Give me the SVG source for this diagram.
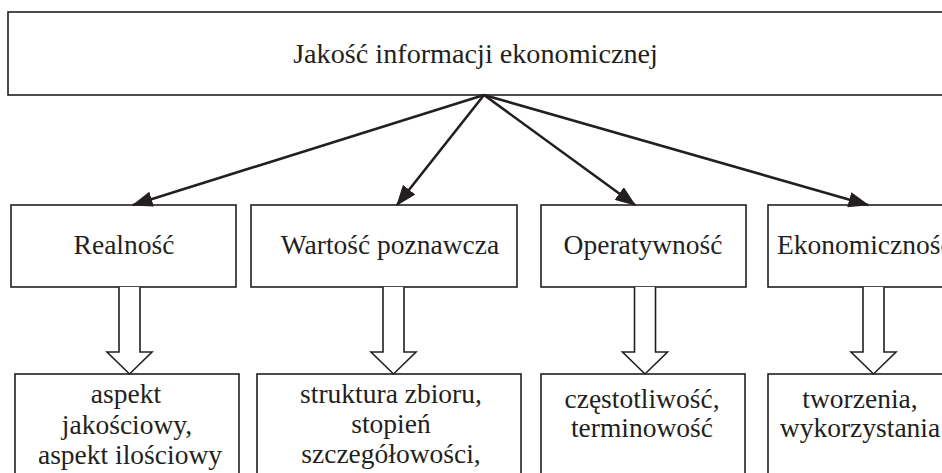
<svg xmlns="http://www.w3.org/2000/svg" width="942" height="473" viewBox="0 0 942 473">
<style>
.box{fill:#fff;stroke:#231f20;stroke-width:1.6}
text{font-family:"Liberation Serif","Times New Roman",serif;font-size:27.5px;fill:#231f20;text-anchor:middle}
.conn{stroke:#231f20;stroke-width:2.6;fill:none}
.hollow{fill:#fff;stroke:#231f20;stroke-width:1.6;stroke-linejoin:miter}
</style>
<defs>
<marker id="ah" markerWidth="8" markerHeight="6" refX="7.5" refY="3" orient="auto" markerUnits="strokeWidth">
<path d="M0,0 L8,3 L0,6 Z" fill="#231f20"/>
</marker>
</defs>
<rect width="942" height="473" fill="#fff"/>
<g id="n-top">
<rect class="box" x="8" y="12" width="950" height="83"/>
<text x="475.5" y="63" style="font-size:28.2px">Jakość informacji ekonomicznej</text>
</g>
<g id="n-realnosc">
<rect class="box" x="11" y="205" width="225" height="82"/>
<text x="124" y="254">Realność</text>
</g>
<g id="n-wartosc">
<rect class="box" x="251" y="205" width="266" height="82"/>
<text x="390" y="254">Wartość poznawcza</text>
</g>
<g id="n-operatywnosc">
<rect class="box" x="541" y="205" width="205" height="82"/>
<text x="643" y="254">Operatywność</text>
</g>
<g id="n-ekonomicznosc">
<rect class="box" x="768" y="205" width="190" height="82"/>
<text x="777" y="254" style="text-anchor:start">Ekonomiczność</text>
</g>
<g id="n-realnosc-d">
<rect class="box" x="15" y="374" width="224" height="110"/>
<text x="126" y="403">aspekt</text>
<text x="127" y="434">jakościowy,</text>
<text x="130" y="464">aspekt ilościowy</text>
</g>
<g id="n-wartosc-d">
<rect class="box" x="257" y="374" width="264" height="110"/>
<text x="391" y="403">struktura zbioru,</text>
<text x="391" y="433">stopień</text>
<text x="391" y="463">szczegółowości,</text>
</g>
<g id="n-operatywnosc-d">
<rect class="box" x="541" y="374" width="204" height="110"/>
<text x="642" y="408">częstotliwość,</text>
<text x="642" y="437">terminowość</text>
</g>
<g id="n-ekonomicznosc-d">
<rect class="box" x="768" y="374" width="190" height="110"/>
<text x="860" y="408">tworzenia,</text>
<text x="860" y="437">wykorzystania</text>
</g>
<g id="connectors">
<line class="conn" x1="484" y1="95" x2="133" y2="205" marker-end="url(#ah)"/>
<line class="conn" x1="484" y1="95" x2="397" y2="205" marker-end="url(#ah)"/>
<line class="conn" x1="484" y1="95" x2="635" y2="205" marker-end="url(#ah)"/>
<line class="conn" x1="484" y1="95" x2="868" y2="205" marker-end="url(#ah)"/>
<path class="hollow" d="M119,287 V352 H107 L129.5,374 L152,352 H140 V287"/>
<path class="hollow" d="M383,287 V352 H371 L393.5,374 L416,352 H404 V287"/>
<path class="hollow" d="M634.5,287 V352 H622.5 L645,374 L667.5,352 H655.5 V287"/>
<path class="hollow" d="M863,287 V352 H851 L873.5,374 L896,352 H884 V287"/>
</g>
</svg>
